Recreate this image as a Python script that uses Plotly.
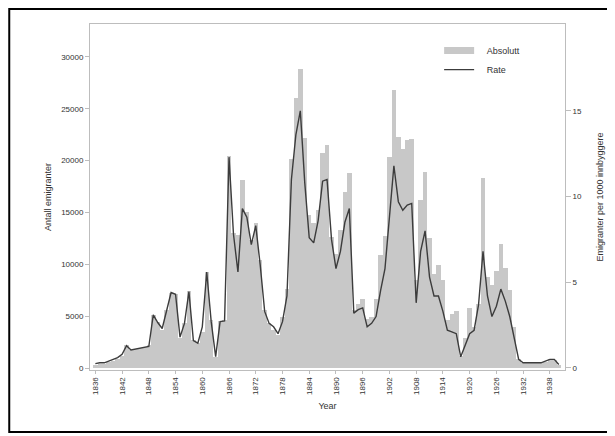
import plotly.graph_objects as go

years = list(range(1836, 1941))

absolutt = [
    300, 400, 400, 600, 700, 900, 1200, 2200, 1700, 1800,      # 1836-1845
    1900, 2000, 2200, 5100, 4400, 3700, 5600, 7200, 7100, 2900,  # 1846-1855
    4300, 7400, 2700, 2400, 3500, 9300, 4600, 1100, 4500, 4600,  # 1856-1865
    20400, 13000, 12800, 18100, 15000, 12300, 14000, 10400, 5600, 4300,  # 1866-1875
    3700, 3200, 4900, 7600, 20200, 26000, 28800, 22200, 14800, 14000,  # 1876-1885
    15200, 20700, 21500, 12600, 11000, 13300, 17000, 18800, 5600, 6200,  # 1886-1895
    6700, 4700, 4900, 6700, 10900, 12700, 20300, 26800, 22300, 21100,  # 1896-1905
    22000, 22100, 8500, 16200, 18900, 12500, 9100, 9900, 8500, 4600,  # 1906-1915
    5200, 5500, 1200, 2900, 5800, 4000, 6200, 18300, 8800, 8000,  # 1916-1925
    9400, 12000, 9600, 7500, 4000, 900, 500, 500, 500, 500,  # 1926-1935
    500, 600, 900, 800, 300,  # 1936-1940
]

rate = [
    0.25, 0.3, 0.3, 0.4, 0.5, 0.6, 0.8, 1.3, 1.05, 1.1,       # 1836-1845
    1.15, 1.2, 1.25, 3.1, 2.65, 2.3, 3.3, 4.4, 4.3, 1.8,      # 1846-1855
    2.6, 4.45, 1.6, 1.45, 2.4, 5.6, 2.7, 0.66, 2.7, 2.75,     # 1856-1865
    12.3, 7.8, 5.6, 9.3, 8.8, 7.2, 8.3, 6.0, 3.3, 2.6,        # 1866-1875
    2.4, 2.0, 2.7, 4.2, 11.0, 13.6, 15.0, 10.8, 7.6, 7.3,     # 1876-1885
    8.6, 10.9, 11.0, 7.5, 5.8, 6.8, 8.5, 9.3, 3.2, 3.4,       # 1886-1895
    3.5, 2.4, 2.6, 3.0, 4.5, 5.8, 8.8, 11.8, 9.7, 9.2,        # 1896-1905
    9.5, 9.6, 3.8, 6.8, 8.0, 5.3, 4.2, 4.2, 3.3, 2.2,         # 1906-1915
    2.1, 2.0, 0.65, 1.3, 2.0, 2.2, 3.7, 6.8, 4.2, 3.0,        # 1916-1925
    3.6, 4.6, 3.9, 3.0, 1.7, 0.5, 0.3, 0.3, 0.3, 0.3,         # 1926-1935
    0.3, 0.4, 0.5, 0.5, 0.2,                                  # 1936-1940
]

tick_years = list(range(1836, 1941, 6))
left_ticks = [0, 5000, 10000, 15000, 20000, 25000, 30000]
right_ticks = [0, 5, 10, 15]

bar_color = "#c8c8c8"
line_color = "#3c3c3c"
font_family = "Liberation Sans, Arial, sans-serif"

fig = go.Figure()
fig.add_trace(go.Bar(
    x=years, y=absolutt, width=1.0,
    marker=dict(color=bar_color, line=dict(width=0)),
    name="Absolutt", showlegend=False, yaxis="y",
))
# legend sample for bars (wide patch)
fig.add_trace(go.Scatter(
    x=[None], y=[None], mode="lines",
    line=dict(color=bar_color, width=7),
    name="\u00a0\u00a0\u00a0Absolutt", showlegend=True,
))
fig.add_trace(go.Scatter(
    x=years, y=rate, mode="lines",
    line=dict(color=line_color, width=1.4),
    name="\u00a0\u00a0\u00a0Rate", yaxis="y2",
))

axis_line = "#bdbdbd"
fig.update_layout(
    width=607, height=428,
    margin=dict(l=82, r=48, t=16, b=66),
    paper_bgcolor="white", plot_bgcolor="white",
    font=dict(family=font_family, size=9, color="#333333"),
    bargap=0,
    showlegend=True,
    legend=dict(x=0.735, y=0.965, xanchor="left", yanchor="top",
                bgcolor="rgba(255,255,255,0)", font=dict(size=9),
                tracegroupgap=0, itemwidth=30),
    xaxis=dict(
        range=[1834.8, 1941.4],
        tickmode="array", tickvals=tick_years, ticktext=[str(t) for t in tick_years],
        tickangle=-90, tickfont=dict(size=8),
        ticks="outside", ticklen=3, tickcolor=axis_line,
        showline=True, linecolor=axis_line, linewidth=1, mirror=True,
        showgrid=False, zeroline=False,
        title=dict(text="Year", font=dict(size=9), standoff=8),
    ),
    yaxis=dict(
        range=[-190, 33170],
        tickmode="array", tickvals=left_ticks, ticktext=[str(t) for t in left_ticks],
        tickfont=dict(size=8),
        ticks="outside", ticklen=4, tickcolor=axis_line,
        showline=True, linecolor=axis_line, linewidth=1, mirror=True,
        showgrid=False, zeroline=False,
        title=dict(text="Antall emigranter", font=dict(size=9), standoff=8),
    ),
    yaxis2=dict(
        range=[-0.12, 20.07],
        overlaying="y", side="right",
        tickmode="array", tickvals=right_ticks, ticktext=[str(t) for t in right_ticks],
        tickfont=dict(size=8),
        ticks="outside", ticklen=5, tickcolor=axis_line,
        showline=False, showgrid=False, zeroline=False,
        title=dict(text="Emigranter per 1000 innbyggere", font=dict(size=9), standoff=15),
    ),
    shapes=[dict(
        type="rect", xref="paper", yref="paper",
        x0=-0.170, x1=1.094, y0=-0.179, y1=1.043,
        line=dict(color="black", width=2), fillcolor="rgba(0,0,0,0)",
        layer="above",
    )],
)

fig.write_html("out.html")
